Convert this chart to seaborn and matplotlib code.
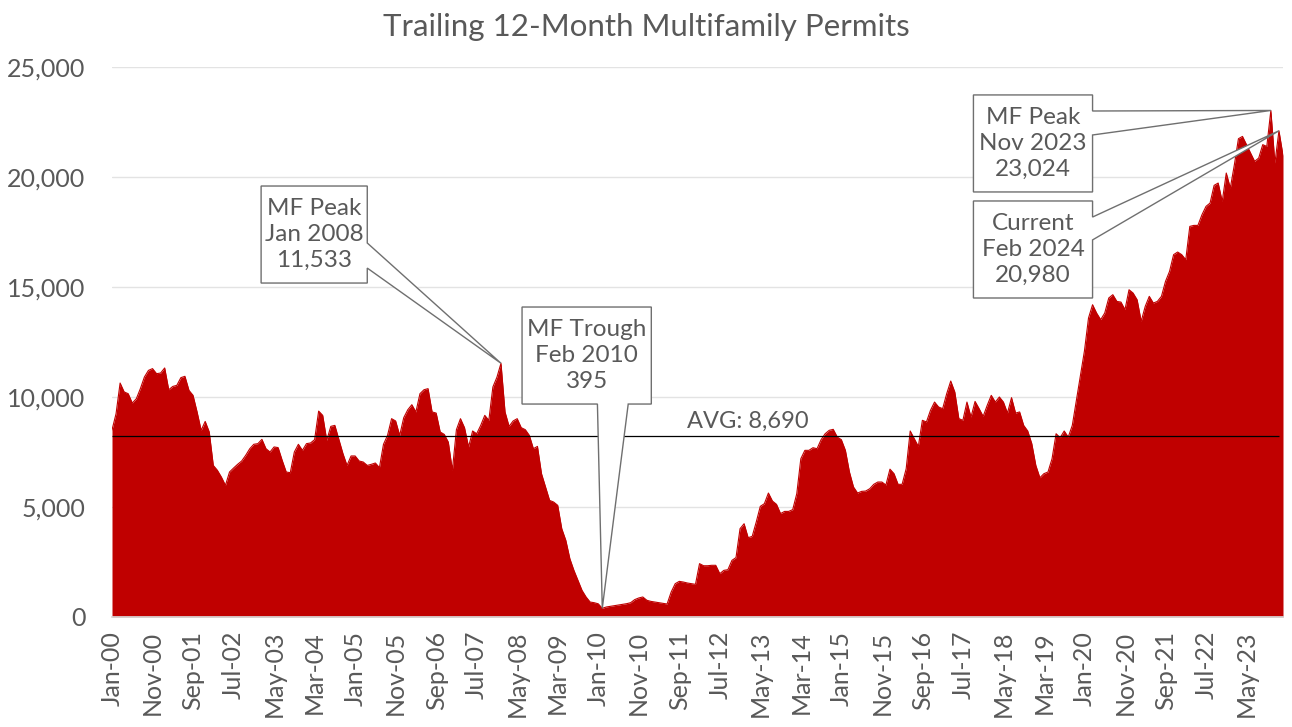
import matplotlib
matplotlib.use("Agg")
import matplotlib.pyplot as plt
from matplotlib.patches import Polygon
from matplotlib.ticker import FuncFormatter
import seaborn as sns
import pandas as pd

# Trailing 12-month multifamily permits, monthly Jan-2000 .. Feb-2024
permits = [
    8500, 9240, 10635, 10230, 10150, 9725, 9920, 10380, 10910, 11210, 11290, 11060,
    11090, 11320, 10330, 10480, 10530, 10880, 10940, 10300, 10075, 9320, 8485, 8890,
    8410, 6890, 6670, 6360, 5985, 6590, 6770, 6940, 7090, 7350, 7650, 7850,
    7880, 8075, 7650, 7500, 7730, 7700, 7120, 6590, 6560, 7500, 7850, 7575,
    7880, 7910, 8060, 9360, 9165, 8030, 8665, 8710, 8060, 7425, 6890, 7320,
    7320, 7090, 7045, 6890, 6940, 7000, 6790, 7850, 8255, 9015, 8910, 8255,
    9060, 9420, 9650, 9320, 10150, 10330, 10380, 9320, 9270, 8410, 8300, 7950,
    6670, 8515, 9015, 8605, 7730, 8455, 8330, 8710, 9165, 8940, 10455, 10900,
    11533, 9320, 8665, 8910, 9015, 8605, 8515, 8255, 7650, 7755, 6515, 5910,
    5300, 5225, 5075, 4015, 3485, 2650, 2120, 1665, 1210, 910, 680, 650,
    600, 395, 455, 485, 515, 545, 575, 605, 650, 790, 865, 910,
    760, 710, 680, 650, 620, 590, 1135, 1515, 1620, 1590, 1545, 1515,
    1485, 2425, 2330, 2330, 2350, 2350, 1970, 2120, 2150, 2575, 2700, 4015,
    4240, 3605, 3665, 4320, 5030, 5150, 5635, 5270, 5120, 4700, 4800, 4800,
    4880, 5605, 7195, 7575, 7575, 7695, 7650, 8060, 8330, 8485, 8530, 8180,
    8060, 7575, 6590, 5910, 5635, 5710, 5725, 5830, 6030, 6135, 6135, 6000,
    6720, 6515, 6030, 6030, 6740, 8455, 8105, 7755, 8940, 8865, 9395, 9770,
    9545, 9470, 10150, 10725, 10225, 9015, 8940, 9770, 9090, 9800, 9470, 9120,
    9620, 10075, 9770, 10000, 9770, 9270, 9970, 9270, 9320, 8710, 8455, 7880,
    6890, 6330, 6515, 6590, 7195, 8330, 8150, 8455, 8180, 8710, 9850, 11000,
    12100, 13590, 14195, 13815, 13515, 13815, 14500, 14650, 14345, 14315, 13970, 14875,
    14725, 14420, 13440, 14120, 14575, 14270, 14345, 14575, 15255, 15710, 16470, 16590,
    16470, 16240, 17755, 17800, 17800, 18285, 18665, 18815, 19620, 19725, 18890, 20180,
    19500, 20560, 21740, 21845, 21470, 21090, 20710, 20860, 21470, 21390, 23024, 20635,
    22100, 20980,
]

tick_labels = [
    "Jan-00", "Nov-00", "Sep-01", "Jul-02", "May-03", "Mar-04", "Jan-05", "Nov-05",
    "Sep-06", "Jul-07", "May-08", "Mar-09", "Jan-10", "Nov-10", "Sep-11", "Jul-12",
    "May-13", "Mar-14", "Jan-15", "Nov-15", "Sep-16", "Jul-17", "May-18", "Mar-19",
    "Jan-20", "Nov-20", "Sep-21", "Jul-22", "May-23",
]

avg_label = "AVG: 8,690"
avg_drawn = 8230  # where the reference draws the average line

peak_2008 = 96      # Jan 2008
trough_2010 = 121   # Feb 2010
peak_2023 = 286     # Nov 2023
current_tip = 288   # leader lines of the "Current" box meet here

df = pd.DataFrame({"month": range(len(permits)), "permits": permits})

sns.set_theme(style="white")
plt.rcParams["font.family"] = ["Lato", "DejaVu Sans"]

GRAY_TEXT = "#595959"
RED = "#C00000"

fig = plt.figure(figsize=(12.92, 7.27), dpi=100)
ax = fig.add_axes([112 / 1292, 1 - 617 / 727, (1283 - 112) / 1292, (617 - 67) / 727])

ax.fill_between(df["month"], df["permits"], color=RED, lw=0, zorder=2)
sns.lineplot(data=df, x="month", y="permits", color=RED, lw=0.8, ax=ax, zorder=2)

ax.set_xlim(0, len(permits) - 1)
ax.set_ylim(0, 25000)
ax.set_yticks(range(0, 25001, 5000))
ax.yaxis.set_major_formatter(FuncFormatter(lambda v, p: f"{v:,.0f}"))
ax.set_xticks(range(0, len(permits), 10))
ax.set_xticklabels(tick_labels, rotation=90)
ax.set_xlabel("")
ax.set_ylabel("")

ax.yaxis.grid(True, color="#E3E3E3", lw=1)
ax.set_axisbelow(True)
for s in ["top", "right", "left"]:
    ax.spines[s].set_visible(False)
ax.spines["bottom"].set_color("#D9D9D9")
ax.tick_params(axis="x", length=7, width=1, color="#D9D9D9", direction="out",
               labelsize=18, labelcolor=GRAY_TEXT, pad=3)
ax.tick_params(axis="y", length=0, labelsize=18, labelcolor=GRAY_TEXT, pad=19)

fig.text(0.5, 1 - 27 / 727, "Trailing 12-Month Multifamily Permits", fontsize=22.5,
         color=GRAY_TEXT, ha="center", va="center")

# average line with its label
ax.hlines(avg_drawn, 0, len(permits) - 2, color="black", lw=0.9, zorder=3)
ax.text(142, 8900, avg_label, fontsize=17, color=GRAY_TEXT, va="center", ha="left",
        zorder=4, bbox=dict(facecolor="white", edgecolor="none", pad=1.5))


def callout(box, wedge, tip, side, text):
    x0, x1, y0, y1 = box  # left, right, bottom, top (data units)
    w0, w1 = wedge
    if side == "right":
        pts = [(x0, y1), (x1, y1), (x1, w0), tip, (x1, w1), (x1, y0), (x0, y0)]
    else:  # bottom
        pts = [(x0, y1), (x1, y1), (x1, y0), (w1, y0), tip, (w0, y0), (x0, y0)]
    ax.add_patch(Polygon(pts, closed=True, facecolor="white", edgecolor="#6F6F6F",
                         lw=1, zorder=5, clip_on=False))
    ax.text((x0 + x1) / 2, (y0 + y1) / 2, text, ha="center", va="center",
            fontsize=17.5, color=GRAY_TEXT, linespacing=1.3, zorder=6)


callout((36.8, 63.0, 15180, 19590), (17000, 15860),
        (peak_2008, permits[peak_2008]), "right", "MF Peak\nJan 2008\n11,533")
callout((101.2, 133.1, 9680, 14090), (119.8, 127.4),
        (trough_2010, permits[trough_2010]), "bottom", "MF Trough\nFeb 2010\n395")
callout((212.6, 242.0, 19320, 23730), (23000, 21910),
        (peak_2023, permits[peak_2023]), "right", "MF Peak\nNov 2023\n23,024")
callout((212.6, 242.0, 14500, 18910), (18180, 17140),
        (current_tip, permits[current_tip]), "right", "Current\nFeb 2024\n20,980")

fig.savefig("out.png", dpi=100)
